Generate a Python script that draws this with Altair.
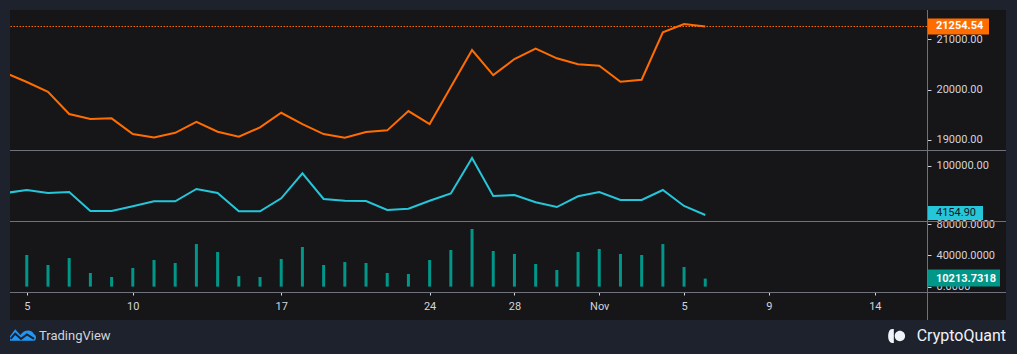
import altair as alt
import pandas as pd

NAVY = "#1e222d"
DARK = "#161619"
SEP = "#6f727c"
LABEL = "#d1d4dc"
ORANGE = "#ff6d00"
CYAN = "#26c6da"
TEAL = "#009688"
FONT = "Roboto"

# ---- data ----
DATES = [f"2022-10-{d:02d}T00:00:00" for d in range(4, 32)] + \
        [f"2022-11-{d:02d}T00:00:00" for d in range(1, 7)]

PRICE = [20330, 20151, 19958, 19515, 19416, 19430, 19117, 19052, 19143, 19362,
         19163, 19064, 19250, 19541, 19316, 19117, 19044, 19157, 19191, 19575,
         19316, 20052, 20787, 20290, 20608, 20813, 20622, 20503, 20475, 20157,
         20197, 21139, 21304, 21254.54]

FLOW = [46900, 52700, 46900, 48800, 11900, 11900, 21000, 30700, 30700, 54700,
        46900, 11300, 11300, 36600, 85200, 35200, 31900, 31300, 13800, 16300,
        31900, 45900, 115000, 41000, 43000, 28800, 19600, 40500, 48800, 33300,
        33300, 52700, 21600, 4154.90]

BAR_DATES = DATES[1:]
BARS = [40400, 27600, 36500, 17400, 12300, 23800, 34000, 30200, 54400, 44200,
        13500, 12300, 35300, 50600, 27600, 31400, 30200, 17400, 16100, 34000,
        46800, 73600, 45500, 41700, 28900, 21200, 44200, 48100, 41700, 40400,
        54400, 25000, 10213.7318]

PRICE_TICKS = [19000, 20000, 21000]
FLOW_TICKS = [100000]
BAR_TICKS = [0, 40000, 80000]
X_TICKS = [(10, 5), (10, 10), (10, 17), (10, 24), (10, 28), (11, 1), (11, 5), (11, 9), (11, 14)]

price_df = pd.DataFrame({"date": DATES, "v": PRICE})
flow_df = pd.DataFrame({"date": DATES, "v": FLOW})
bar_df = pd.DataFrame({"date": BAR_DATES, "v": BARS})
one = pd.DataFrame({"a": [0]})

W = 917
x_scale = alt.Scale(domain=[alt.DateTime(year=2022, month=10, date=4, hours=5),
                            alt.DateTime(year=2022, month=11, date=16, hours=11)],
                    nice=False, padding=0)
x_none = alt.X("date:T", scale=x_scale, axis=None, title=None)

axis_style = dict(orient="right", labelColor=LABEL, labelFont=FONT, labelFontSize=11,
                  tickColor=LABEL, tickSize=4, labelPadding=5, domain=False, grid=False,
                  title=None, labelFlush=False)

# ---- top panel: price ----
y_top = alt.Y("v:Q", scale=alt.Scale(domain=[18801, 21582], nice=False, zero=False),
              axis=alt.Axis(values=PRICE_TICKS, format=".2f", zindex=1, **axis_style), title=None)

bg_full = alt.Chart(one).mark_rect(color=NAVY, strokeWidth=0).encode(
    x=alt.value(-10), x2=alt.value(1007), y=alt.value(-10), y2=alt.value(344))
bg_dark = alt.Chart(one).mark_rect(color=DARK, strokeWidth=0).encode(
    x=alt.value(0), x2=alt.value(996), y=alt.value(0), y2=alt.value(310))

price_line = alt.Chart(price_df).mark_line(color=ORANGE, strokeWidth=2, clip=True).encode(x=x_none, y=y_top)
last_p = price_df.tail(1)
price_rule = alt.Chart(last_p).mark_rule(color=ORANGE, strokeWidth=1, strokeDash=[1.5, 1.5]).encode(y=y_top)
price_box = alt.Chart(last_p).mark_rect(color=ORANGE, yOffset=-8, y2Offset=8).encode(
    x=alt.value(917), x2=alt.value(979), y=y_top, y2=alt.Y2("v:Q"))
price_txt = alt.Chart(last_p).mark_text(align="left", baseline="middle", color="white",
                                        font=FONT, fontSize=11, fontWeight="bold").encode(
    x=alt.value(926), y=y_top, text=alt.Text("v:Q", format=".2f"))

top = alt.layer(bg_full, bg_dark, price_line, price_rule, price_box, price_txt).properties(width=W, height=140)

# ---- middle panel: flow line ----
y_mid = alt.Y("v:Q", scale=alt.Scale(domain=[-7590, 130540], nice=False, zero=False),
              axis=alt.Axis(values=FLOW_TICKS, format=".2f", **axis_style), title=None)
flow_line = alt.Chart(flow_df).mark_line(color=CYAN, strokeWidth=2, clip=True).encode(x=x_none, y=y_mid)
last_f = flow_df.tail(1)
flow_box = alt.Chart(last_f).mark_rect(color=CYAN, yOffset=-9, y2Offset=5).encode(
    x=alt.value(917), x2=alt.value(973), y=y_mid, y2=alt.Y2("v:Q"))
flow_txt = alt.Chart(last_f).mark_text(align="left", baseline="middle", color="#131722",
                                       font=FONT, fontSize=11, dy=-2).encode(
    x=alt.value(926), y=y_mid, text=alt.Text("v:Q", format=".2f"))
mid = alt.layer(flow_line, flow_box, flow_txt).properties(width=W, height=71)

# ---- bottom panel: bars ----
x_bot = alt.X("date:T", scale=x_scale, title=None,
              axis=alt.Axis(values=[alt.DateTime(year=2022, month=m, date=d) for m, d in X_TICKS],
                            labelExpr="date(datum.value) == 1 ? timeFormat(datum.value, '%b') : '' + date(datum.value)",
                            labelColor=LABEL, labelFont=FONT, labelFontSize=11, tickColor=LABEL,
                            tickSize=3, labelPadding=5, domain=False, grid=False, labelFlush=False))
y_bot = alt.Y("v:Q", scale=alt.Scale(domain=[-6900, 83840], nice=False, zero=False),
              axis=alt.Axis(values=BAR_TICKS, format=".4f", **axis_style), title=None)
bars = alt.Chart(bar_df).mark_bar(color=TEAL, width=3, clip=True).encode(x=x_bot, y=y_bot)
last_b = bar_df.tail(1)
bar_box = alt.Chart(last_b).mark_rect(color=TEAL, yOffset=-9, y2Offset=8).encode(
    x=alt.value(917), x2=alt.value(990), y=y_bot, y2=alt.Y2("v:Q"))
bar_txt = alt.Chart(last_b).mark_text(align="left", baseline="middle", color="white",
                                      font=FONT, fontSize=11, fontWeight="bold").encode(
    x=alt.value(926), y=y_bot, text=alt.Text("v:Q", format=".4f"))

def hrule(yv):
    return alt.Chart(one).mark_rule(color=SEP, strokeWidth=1).encode(
        x=alt.value(0), x2=alt.value(996), y=alt.value(yv))

vrule = alt.Chart(one).mark_rule(color=SEP, strokeWidth=1).encode(
    x=alt.value(917.5), y=alt.value(-211), y2=alt.value(99))

TV_FILL = "M-1,0.45 L-1,0.1 L-0.6,-0.45 L-0.2,0.0 C0.1,-0.45 0.7,-0.45 0.85,-0.05 C1.05,0.0 1.05,0.45 0.85,0.45 Z"
TV_LINE = "M-0.95,0.3 L-0.6,-0.1 L-0.15,0.3 L0.3,-0.05 L0.85,0.3"
CQ_ICON = ("M-0.25,-0.8 L-0.25,0.8 L-0.45,0.8 C-1.05,0.8 -1.05,-0.8 -0.45,-0.8 Z "
           "M1.05,0 A0.6,0.6 0 1,1 -0.15,0 A0.6,0.6 0 1,1 1.05,0 Z")

tv_icon = alt.Chart(one).mark_point(shape=TV_FILL, filled=True, color="#2196f3", size=676, opacity=1).encode(
    x=alt.value(13), y=alt.value(114))
tv_zig = alt.Chart(one).mark_point(shape=TV_LINE, filled=False, color=NAVY, strokeWidth=2, size=676, opacity=1).encode(
    x=alt.value(13), y=alt.value(114))
tv_text = alt.Chart(one).mark_text(text="TradingView", align="left", baseline="middle", font=FONT,
                                   fontSize=13, color=LABEL).encode(x=alt.value(29), y=alt.value(115))
cq_icon = alt.Chart(one).mark_point(shape=CQ_ICON, filled=True, color="#f0f3fa", size=300, opacity=1).encode(
    x=alt.value(886), y=alt.value(115))
cq_text = alt.Chart(one).mark_text(text="CryptoQuant", align="right", baseline="middle", font=FONT,
                                   fontSize=16, color="#f0f3fa").encode(x=alt.value(996), y=alt.value(115))

bot = alt.layer(bars, bar_box, bar_txt, hrule(-70.5), hrule(0.5), hrule(71.5), vrule,
                tv_icon, tv_zig, tv_text, cq_icon, cq_text).properties(width=W, height=71)

chart = alt.vconcat(top, mid, bot, spacing=0, bounds="flush").properties(
    padding=0, background=NAVY
).configure_view(strokeWidth=0, fill=DARK)

chart.save("out.html", embed_options={"renderer": "svg", "actions": False})
